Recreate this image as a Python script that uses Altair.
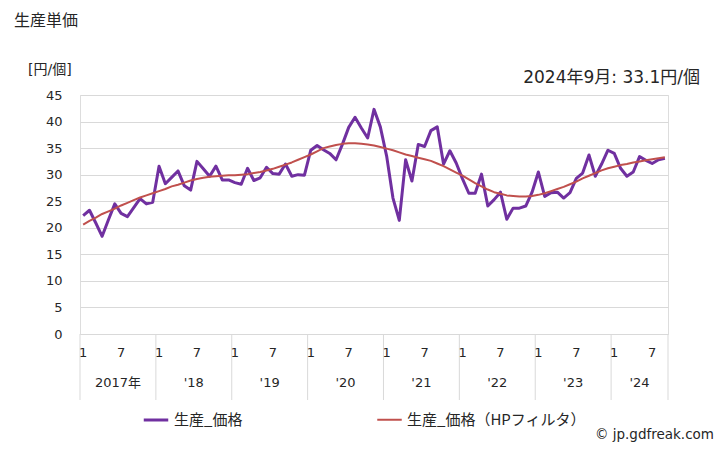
import altair as alt
import pandas as pd

FONT = "Noto Sans CJK JP"
NUMFONT = "DejaVu Sans, Noto Sans CJK JP"

# ---- data (monthly, 2017-01 .. 2024-09) ----
year_labels = ["2017年", "'18", "'19", "'20", "'21", "'22", "'23", "'24"]
year_month_counts = [12, 12, 12, 12, 12, 12, 12, 9]
month_tick_labels = {1: "1", 7: "7"}
y_ticks = [0, 5, 10, 15, 20, 25, 30, 35, 40, 45]

price = [22.3, 23.3, 20.9, 18.4, 21.5, 24.5, 22.7, 22.1, 23.8, 25.5, 24.5, 24.8,
         31.6, 28.3, 29.5, 30.7, 27.9, 27.1, 32.5, 31.1, 29.7, 31.6, 29.0, 29.0,
         28.5, 28.2, 31.2, 28.9, 29.4, 31.4, 30.2, 30.1, 32.0, 29.7, 30.0, 29.9,
         34.6, 35.5, 34.7, 34.0, 32.8, 35.7, 38.9, 40.8, 38.8, 36.9, 42.3, 39.0,
         33.5, 25.6, 21.4, 32.8, 28.8, 35.7, 35.3, 38.3, 39.0, 32.0, 34.5, 32.2,
         29.2, 26.5, 26.5, 30.1, 24.1, 25.3, 26.7, 21.6, 23.7, 23.7, 24.1, 26.7,
         30.5, 25.9, 26.6, 26.7, 25.6, 26.6, 29.3, 30.3, 33.7, 29.7, 32.0, 34.6,
         34.0, 31.2, 29.7, 30.5, 33.4, 32.7, 32.1, 32.8, 33.1]

hp = [20.6, 21.3, 21.9, 22.6, 23.1, 23.6, 24.2, 24.7, 25.2, 25.7, 26.1, 26.5,
      26.9, 27.3, 27.8, 28.1, 28.5, 28.9, 29.2, 29.4, 29.6, 29.7, 29.8, 29.9,
      29.9, 30.0, 30.1, 30.3, 30.5, 30.8, 31.1, 31.5, 31.9, 32.3, 32.8, 33.3,
      33.8, 34.4, 35.0, 35.3, 35.6, 35.8, 35.9, 35.9, 35.8, 35.7, 35.5, 35.2,
      34.9, 34.6, 34.2, 33.8, 33.5, 33.2, 32.9, 32.6, 32.1, 31.6, 31.0, 30.4,
      29.8, 29.1, 28.4, 27.8, 27.2, 26.7, 26.4, 26.1, 26.0, 25.9, 25.9, 26.0,
      26.2, 26.5, 26.9, 27.3, 27.7, 28.2, 28.7, 29.3, 29.8, 30.3, 30.8, 31.2,
      31.5, 31.8, 32.0, 32.3, 32.5, 32.7, 32.9, 33.1, 33.3]

s1 = "生産_価格"
s2 = "生産_価格（HPフィルタ）"
n = len(price)

# ---- tables built from the arrays ----
df = pd.DataFrame({
    "pos": [i + 0.5 for i in range(n)] * 2,
    "value": price + hp,
    "series": [s1] * n + [s2] * n,
})

mt_rows = []
for i in range(n):
    m = i % 12 + 1
    if m in month_tick_labels:
        mt_rows.append({"pos": i + 0.5, "label": month_tick_labels[m]})
mt = pd.DataFrame(mt_rows)

starts = [0]
for c in year_month_counts:
    starts.append(starts[-1] + c)
yr = pd.DataFrame({"pos": [(starts[k] + starts[k + 1]) / 2 for k in range(len(year_labels))],
                   "label": year_labels})
sep = pd.DataFrame({"pos": starts})

W, H = 588, 239
xs = alt.Scale(domain=[0, n], nice=False, zero=False)
TXT = "#262626"

lines = alt.Chart(df).mark_line(strokeJoin="round").encode(
    x=alt.X("pos:Q", scale=xs, axis=None),
    y=alt.Y("value:Q", scale=alt.Scale(domain=[0, 45], nice=False),
            axis=alt.Axis(values=y_ticks, grid=True, gridColor="#d9d9d9", gridWidth=1,
                          domain=False, ticks=False, labelPadding=18, labelFontSize=13,
                          labelColor=TXT, labelFont=NUMFONT, title=None)),
    color=alt.Color("series:N", scale=alt.Scale(domain=[s1, s2], range=["#7030a0", "#c0504d"]),
                    legend=alt.Legend(orient="none", legendX=62, legendY=311, direction="horizontal",
                                      title=None, symbolType="stroke", symbolSize=600,
                                      symbolStrokeWidth=3, labelFontSize=15, labelFont=FONT,
                                      labelColor=TXT, labelLimit=400, columnPadding=130,
                                      padding=0)),
    strokeWidth=alt.StrokeWidth("series:N", scale=alt.Scale(domain=[s1, s2], range=[3, 2]), legend=None),
)

seps = alt.Chart(sep).mark_rule(color="#d9d9d9", strokeWidth=1).encode(
    x=alt.X("pos:Q", scale=xs), y=alt.value(H), y2=alt.value(H + 66))

mlabels = alt.Chart(mt).mark_text(font=NUMFONT, fontSize=13, color=TXT, baseline="middle").encode(
    x=alt.X("pos:Q", scale=xs), y=alt.value(H + 19), text="label:N")

ylabels = alt.Chart(yr).mark_text(font=NUMFONT, fontSize=13, color=TXT, baseline="middle").encode(
    x=alt.X("pos:Q", scale=xs), y=alt.value(H + 49), text="label:N")


def note(txt, x, y, size, align="left", font=FONT):
    return alt.Chart(pd.DataFrame({"t": [txt]})).mark_text(
        font=font, fontSize=size, color=TXT, align=align, baseline="middle"
    ).encode(x=alt.value(x), y=alt.value(y), text="t:N")


title = note("生産単価", -66, -74, 16)
unit = note("[円/個]", -52, -25, 14, font=NUMFONT)
latest = note("2024年9月: 33.1円/個", 620, -17, 17, "right", font=NUMFONT)
credit = note("© jp.gdfreak.com", 634, 340, 13.5, "right", font=NUMFONT)

chart = alt.layer(lines, seps, mlabels, ylabels, title, unit, latest, credit).properties(
    width=W, height=H,
    autosize=alt.AutoSizeParams(type="none"),
    padding={"left": 72, "top": 87, "right": 52, "bottom": 112},
).configure_view(stroke=None).configure(background="white")

chart.save("out.html", embed_options={"renderer": "svg", "actions": False})
